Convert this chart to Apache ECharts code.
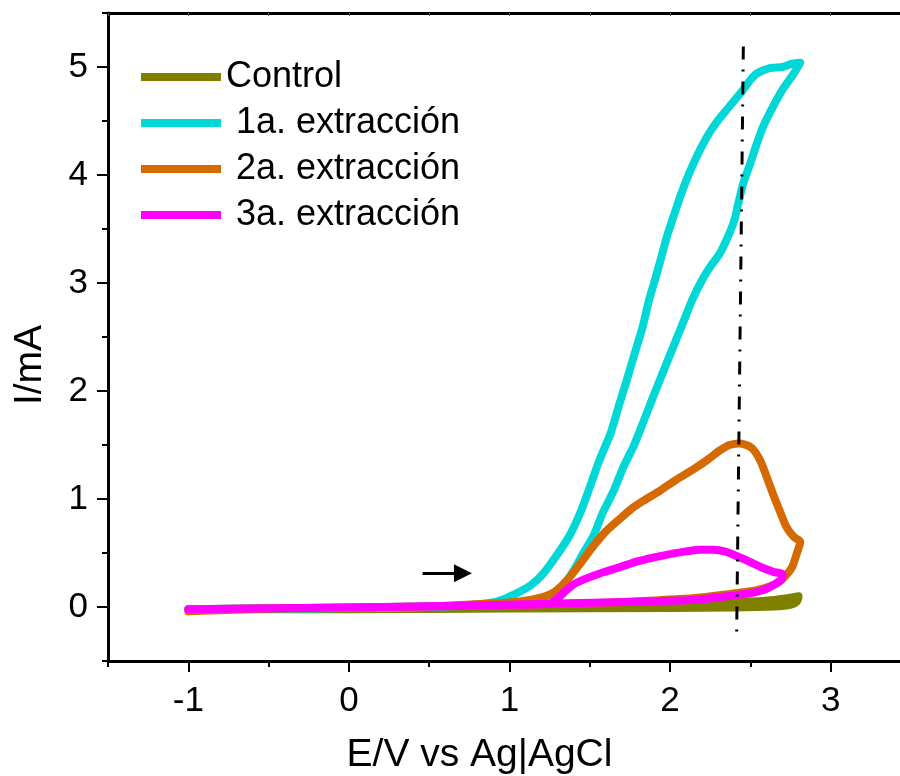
<!DOCTYPE html>
<html>
<head>
<meta charset="utf-8">
<script src="https://cdn.jsdelivr.net/npm/echarts@6/dist/echarts.min.js"></script>
<style>
  html, body { margin: 0; padding: 0; background: #ffffff; }
  #chart { width: 900px; height: 776px; }
</style>
</head>
<body>
<div id="chart"></div>
<script>
// Cyclic voltammograms: potential E (V vs Ag|AgCl) against current I (mA).
// Each loop runs from -1 V up to the vertex near 2.8 V and back.

const xTicks = [-1, 0, 1, 2, 3];
const yTicks = [0, 1, 2, 3, 4, 5];

const seriesNames = ['Control', ' 1a. extracción', ' 2a. extracción', ' 3a. extracción'];

const controlLoop = [
  [-1.0, -0.02], [-0.5, -0.015], [0.0, -0.01], [0.5, -0.005], [1.0, 0.0], [1.5, 0.01],
  [2.0, 0.025], [2.3, 0.035], [2.5, 0.05], [2.65, 0.065], [2.75, 0.085], [2.8, 0.1],
  [2.79, 0.05], [2.75, 0.02], [2.65, 0.005], [2.4, -0.005], [2.0, -0.01], [1.0, -0.015],
  [0.0, -0.02], [-1.0, -0.02]
];

const extraction1Loop = [
  [-1.0, -0.02], [-0.5, -0.015], [0.0, -0.005], [0.5, 0.005], [0.7, 0.015], [0.82, 0.028],
  [0.92, 0.05], [1.02, 0.11], [1.13, 0.2], [1.21, 0.31], [1.29, 0.47], [1.37, 0.65],
  [1.44, 0.87], [1.5, 1.11], [1.56, 1.36], [1.63, 1.61], [1.68, 1.86], [1.73, 2.1],
  [1.78, 2.35], [1.83, 2.6], [1.87, 2.85], [1.9, 3.0], [1.94, 3.21], [1.98, 3.43],
  [2.02, 3.61], [2.07, 3.83], [2.12, 4.02], [2.175, 4.2], [2.23, 4.355], [2.29, 4.49],
  [2.35, 4.6], [2.445, 4.77], [2.5, 4.88], [2.54, 4.94], [2.62, 4.99], [2.7, 5.0],
  [2.76, 5.03], [2.81, 5.04],
  [2.77, 4.94], [2.7, 4.79], [2.64, 4.63], [2.58, 4.45], [2.54, 4.29], [2.5, 4.11],
  [2.455, 3.92], [2.425, 3.74], [2.4, 3.58], [2.36, 3.43], [2.31, 3.275], [2.25, 3.15],
  [2.2, 3.03], [2.14, 2.85], [2.08, 2.63], [2.02, 2.41], [1.96, 2.19], [1.895, 1.95],
  [1.83, 1.7], [1.77, 1.48], [1.71, 1.3], [1.65, 1.08], [1.58, 0.87], [1.52, 0.65],
  [1.46, 0.5], [1.4, 0.34], [1.345, 0.22], [1.29, 0.13], [1.19, 0.05], [1.0, 0.025],
  [0.5, 0.0], [0.0, -0.01], [-0.5, -0.015], [-1.0, -0.02]
];

const extraction2Loop = [
  [-1.0, -0.04], [-0.9, -0.02], [0.0, -0.005], [0.5, 0.005], [0.82, 0.028], [0.98, 0.04],
  [1.13, 0.065], [1.27, 0.13], [1.36, 0.25], [1.44, 0.4], [1.52, 0.56], [1.6, 0.7],
  [1.69, 0.82], [1.76, 0.91], [1.83, 0.98], [1.94, 1.08], [2.04, 1.18], [2.14, 1.27],
  [2.23, 1.36], [2.31, 1.45], [2.37, 1.5], [2.435, 1.515], [2.51, 1.47], [2.56, 1.36],
  [2.6, 1.21], [2.64, 1.05], [2.68, 0.9], [2.725, 0.74], [2.77, 0.65], [2.81, 0.605],
  [2.79, 0.5], [2.76, 0.37], [2.725, 0.3], [2.68, 0.235], [2.62, 0.19], [2.54, 0.157],
  [2.435, 0.133], [2.31, 0.11], [2.14, 0.08], [1.9, 0.06], [1.6, 0.04], [1.2, 0.025],
  [0.5, 0.005], [0.0, -0.005], [-0.5, -0.015], [-1.0, -0.04]
];

const extraction3Loop = [
  [-1.0, -0.02], [0.0, -0.005], [0.5, 0.005], [1.0, 0.02], [1.25, 0.03], [1.3, 0.08],
  [1.35, 0.15], [1.4, 0.21], [1.48, 0.265], [1.58, 0.32], [1.69, 0.37], [1.79, 0.42],
  [1.9, 0.46], [2.0, 0.49], [2.1, 0.515], [2.19, 0.53], [2.27, 0.53], [2.35, 0.51],
  [2.41, 0.475], [2.48, 0.43], [2.56, 0.373], [2.64, 0.327], [2.7, 0.3],
  [2.69, 0.25], [2.64, 0.2], [2.58, 0.157], [2.5, 0.127], [2.41, 0.11], [2.14, 0.065],
  [1.65, 0.045], [1.0, 0.02], [0.0, -0.005], [-1.0, -0.02]
];

// Dash-dot guide through the main peak, and the scan-direction arrow.
const guideLine = [[2.456, 5.19], [2.414, -0.31]];
const scanArrow = [[0.459, 0.312], [0.71, 0.312]];

const colors = ['#808000', '#00d8d8', '#d46a00', '#ff00ff'];
const font = "'Liberation Sans', Arial, sans-serif";

function loopSeries(name, data, color) {
  return {
    name: name,
    type: 'line',
    data: data,
    showSymbol: false,
    symbol: 'none',
    smooth: 0.25,
    lineStyle: { color: color, width: 8, cap: 'round', join: 'round' },
    itemStyle: { color: color },
    animation: false
  };
}

const chart = echarts.init(document.getElementById('chart'), null, { renderer: 'canvas' });

const axisLineStyle = { color: '#000', width: 3 };

chart.setOption({
  backgroundColor: '#ffffff',
  animation: false,
  grid: {
    left: 108, top: 13, right: -11, bottom: 115,
    containLabel: false,
    outerBoundsMode: 'none'
  },
  legend: {
    orient: 'vertical',
    left: 141,
    top: 59,
    padding: 0,
    icon: 'rect',
    itemWidth: 80,
    itemHeight: 8,
    itemGap: 10,
    data: seriesNames.slice(),
    textStyle: { fontFamily: font, fontSize: 36, color: '#000', lineHeight: 36 },
    selectedMode: false
  },
  xAxis: [
    {
      type: 'value', position: 'bottom', min: -1.5, max: 3.5, interval: 0.5,
      name: 'E/V vs Ag|AgCl', nameLocation: 'middle', nameGap: 75,
      nameTextStyle: { fontFamily: font, fontSize: 39, color: '#000', padding: [0, 60, 0, 0] },
      axisLine: { show: true, onZero: false, lineStyle: axisLineStyle },
      axisTick: { show: true, inside: false, length: 6, lineStyle: { color: '#000', width: 2 } },
      axisLabel: { show: false },
      splitLine: { show: false }
    },
    {
      type: 'value', position: 'bottom', min: -1.5, max: 3.5,
      axisLine: { show: false, onZero: false },
      axisTick: { show: true, inside: false, length: 11, customValues: xTicks, lineStyle: { color: '#000', width: 2 } },
      axisLabel: { show: true, customValues: xTicks, margin: 23, fontFamily: font, fontSize: 35, color: '#000' },
      splitLine: { show: false }
    },
    {
      type: 'value', position: 'top', min: -1.5, max: 3.5, interval: 0.5,
      axisLine: { show: true, onZero: false, lineStyle: axisLineStyle },
      axisTick: { show: true, inside: true, length: 3, lineStyle: { color: '#555', width: 1 } },
      axisLabel: { show: false },
      splitLine: { show: false }
    }
  ],
  yAxis: [
    {
      type: 'value', position: 'left', min: -0.5, max: 5.5, interval: 0.5,
      name: 'I/mA', nameLocation: 'middle', nameGap: 58, nameRotate: 90,
      nameTextStyle: { fontFamily: font, fontSize: 39, color: '#000', padding: [0, 56, 0, 0] },
      axisLine: { show: true, onZero: false, lineStyle: axisLineStyle },
      axisTick: { show: true, inside: false, length: 6, lineStyle: { color: '#000', width: 2 } },
      axisLabel: { show: false },
      splitLine: { show: false }
    },
    {
      type: 'value', position: 'left', min: -0.5, max: 5.5,
      axisLine: { show: false, onZero: false },
      axisTick: { show: true, inside: false, length: 11, customValues: yTicks, lineStyle: { color: '#000', width: 2 } },
      axisLabel: { show: true, customValues: yTicks, margin: 20, fontFamily: font, fontSize: 35, color: '#000' },
      splitLine: { show: false }
    }
  ],
  series: [
    loopSeries(seriesNames[0], controlLoop, colors[0]),
    loopSeries(seriesNames[1], extraction1Loop, colors[1]),
    loopSeries(seriesNames[2], extraction2Loop, colors[2]),
    loopSeries(seriesNames[3], extraction3Loop, colors[3]),
    {
      name: 'guide',
      type: 'line',
      data: guideLine,
      showSymbol: false,
      symbol: 'none',
      lineStyle: { color: '#000', width: 3, type: [13, 10, 2, 10] },
      z: 5,
      animation: false
    },
    {
      name: 'scan',
      type: 'lines',
      coordinateSystem: 'cartesian2d',
      data: [{ coords: scanArrow }],
      symbol: ['none', 'triangle'],
      symbolSize: [11, 18],
      lineStyle: { color: '#000', width: 3, opacity: 1 },
      z: 5,
      animation: false
    }
  ]
});
</script>
</body>
</html>
